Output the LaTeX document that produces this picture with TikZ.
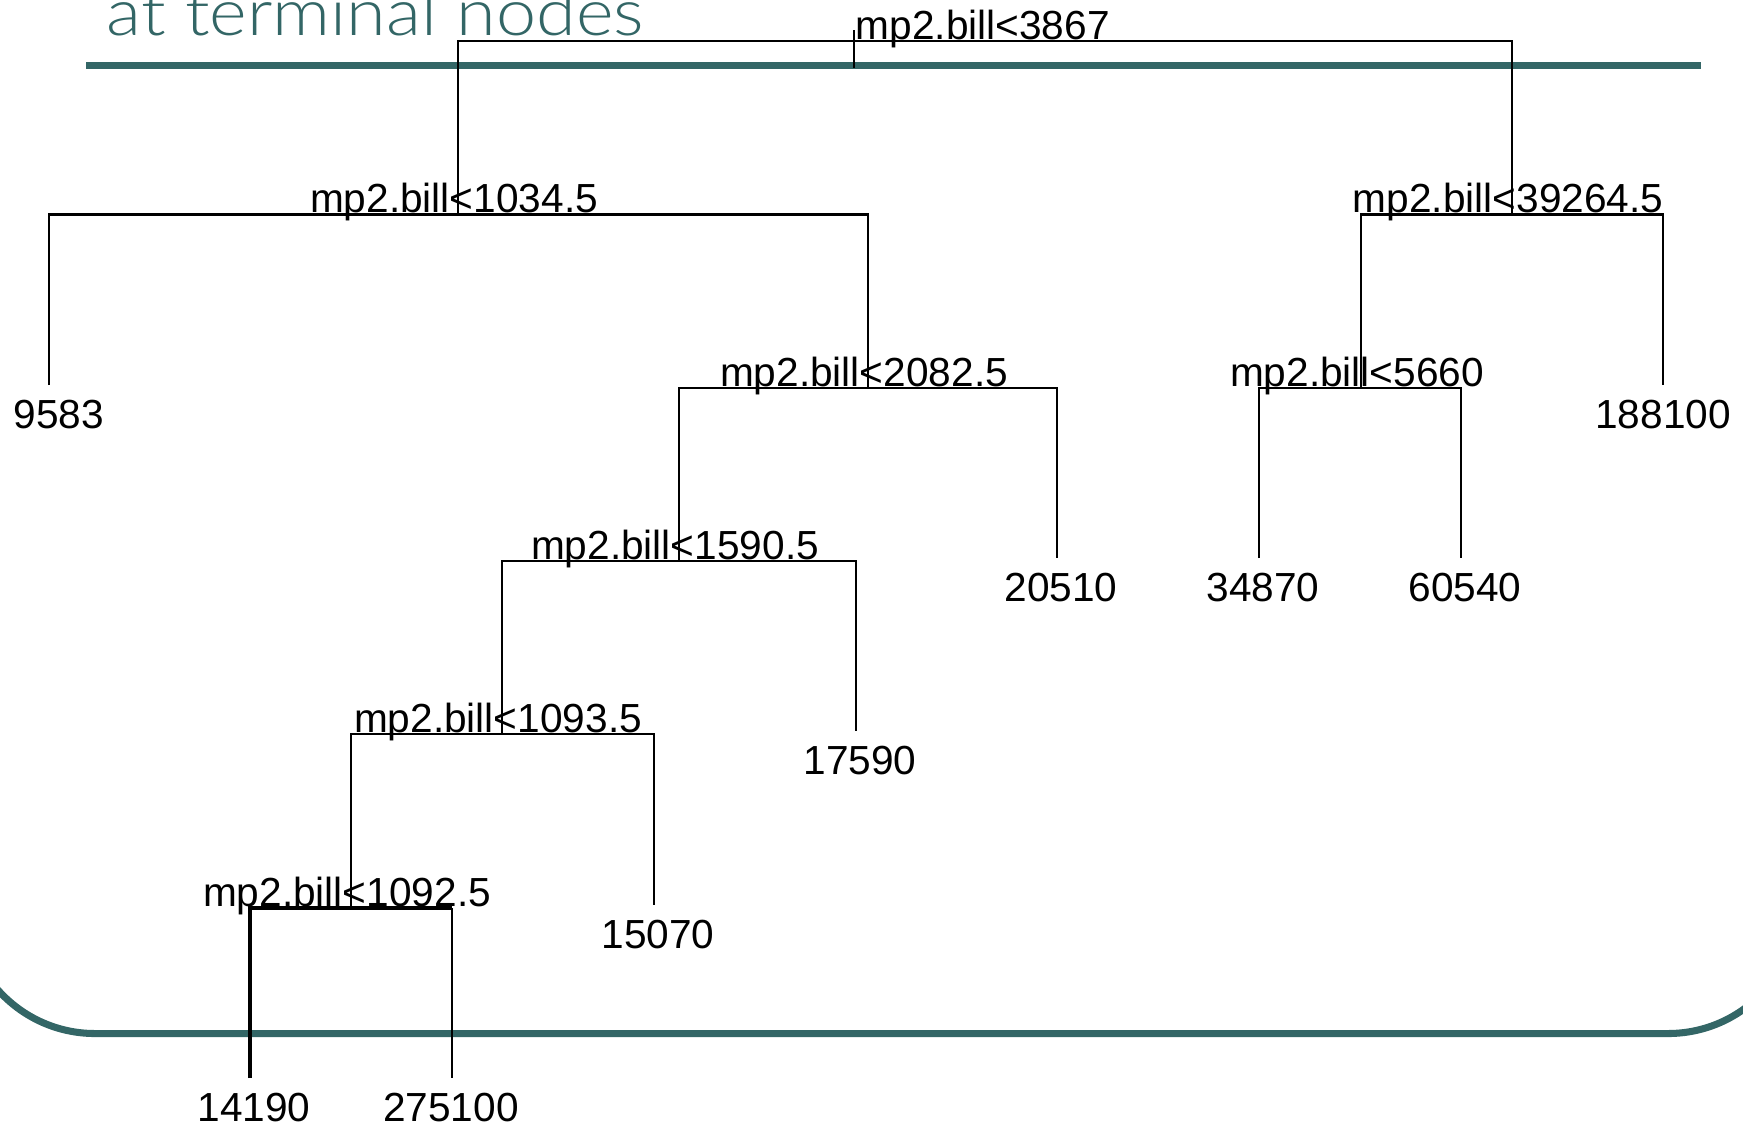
\documentclass[tikz,border=0pt]{standalone}
\usepackage{fontspec}
\setmainfont{Liberation Sans}
\newfontfamily\titlefont{Lato Light}
\definecolor{teal1}{HTML}{336666}
\begin{document}
\begin{tikzpicture}[x=0.01cm,y=-0.01cm,
  treeline/.style={line width=0.75pt,black},
  splitlab/.style={anchor=base,inner sep=0pt,font=\fontsize{11.55pt}{13pt}\selectfont,xshift=-0.04cm},
  leaflab/.style={anchor=base,inner sep=0pt,font=\fontsize{11.55pt}{13pt}\selectfont,xshift=0.04cm},
  tealline/.style={line width=2pt,teal1}]
\clip (0,0) rectangle (1743,1126);
% slide decorations
\node[anchor=base west,inner sep=0pt,text=teal1] (title) at (106,35)
  {\resizebox{5.37cm}{\height}{\titlefont\fontsize{18.5pt}{21pt}\selectfont at terminal nodes}};
\draw[tealline] (86,65.5) -- (1701,65.5);
\draw[tealline,rounded corners=1.3cm] (-35,600) -- (-35,1033.5) -- (1798,1033.5) -- (1798,600);
% split points
\coordinate (r)  at (985,41);
\coordinate (n1) at (458,214.5);
\coordinate (n2) at (1512,214.5);
\coordinate (n3) at (868,388);
\coordinate (n4) at (1361,388);
\coordinate (n5) at (679,561);
\coordinate (n6) at (502,734);
\coordinate (n7) at (351,908);
% leaf ends
\coordinate (l1) at (49,385);
\coordinate (l2) at (1663,385);
\coordinate (l3) at (1057,558);
\coordinate (l4) at (1259,558);
\coordinate (l5) at (1461,558);
\coordinate (l6) at (856,731);
\coordinate (l7) at (654,905);
\coordinate (l8) at (250,1078);
\coordinate (l9) at (452,1078);
\coordinate (rs1) at (854,30);
\coordinate (rs2) at (854,68);
% connectors
\draw[treeline] (rs1) -- (rs2);
\draw[treeline] (n1) |- (r) -| (n2);
\draw[treeline] (l1) |- (n1) -| (n3);
\draw[treeline] (n4) |- (n2) -| (l2);
\draw[treeline] (n5) |- (n3) -| (l3);
\draw[treeline] (l4) |- (n4) -| (l5);
\draw[treeline] (n6) |- (n5) -| (l6);
\draw[treeline] (n7) |- (n6) -| (l7);
\draw[treeline,line width=1pt] (l8) |- (n7) -- (l9 |- n7);
\draw[treeline] (l9 |- n7) -- (l9);
% split labels
\node[anchor=base west,inner sep=0pt,font=\fontsize{11.55pt}{13pt}\selectfont] (rlab) at (855,39) {mp2.bill<3867};
\node[splitlab] (n1lab) at ([yshift=0.02cm]n1) {mp2.bill<1034.5};
\node[splitlab] (n2lab) at ([yshift=0.02cm]n2) {mp2.bill<39264.5};
\node[splitlab] (n3lab) at ([yshift=0.02cm]n3) {mp2.bill<2082.5};
\node[splitlab] (n4lab) at ([yshift=0.02cm]n4) {mp2.bill<5660};
\node[splitlab] (n5lab) at ([yshift=0.02cm]n5) {mp2.bill<1590.5};
\node[splitlab] (n6lab) at ([yshift=0.02cm]n6) {mp2.bill<1093.5};
\node[splitlab] (n7lab) at ([yshift=0.02cm]n7) {mp2.bill<1092.5};
% leaf labels
\node[leaflab] (t1) at (55,428) {9583};
\node[leaflab,xshift=-0.04cm] (t2) at (1663,428) {188100};
\node[leaflab] (t3) at (1057,601) {20510};
\node[leaflab] (t4) at (1259,601) {34870};
\node[leaflab] (t5) at (1461,601) {60540};
\node[leaflab] (t6) at (856,774) {17590};
\node[leaflab] (t7) at (654,948) {15070};
\node[leaflab] (t8) at (250,1121) {14190};
\node[leaflab,xshift=-0.05cm] (t9) at (452,1121) {275100};
\end{tikzpicture}
\end{document}
